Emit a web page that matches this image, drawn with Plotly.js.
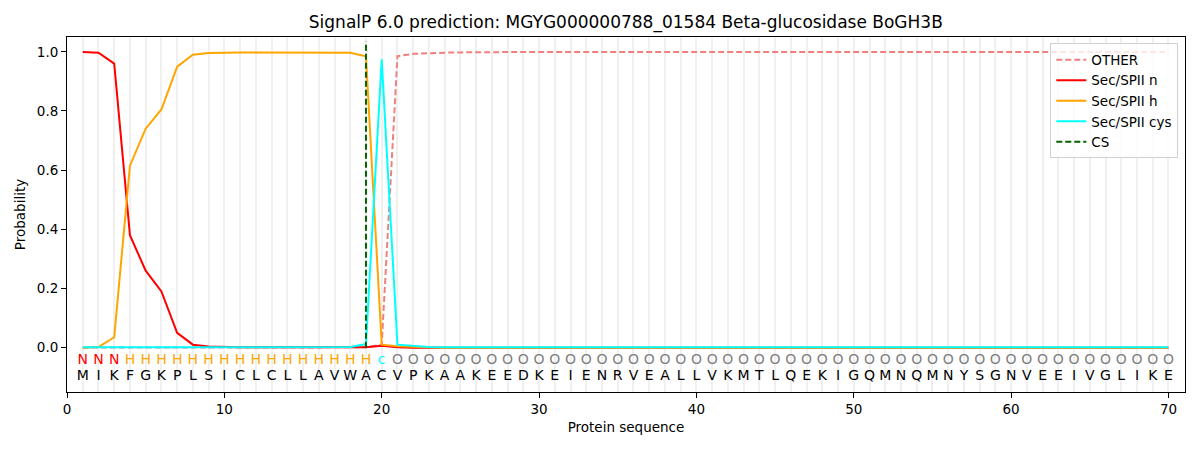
<!DOCTYPE html>
<html>
<head>
<meta charset="utf-8">
<script src="https://cdn.plot.ly/plotly-3.0.1.min.js"></script>
<style>
  body { margin: 0; background: #fff; }
  #chart { width: 1200px; height: 450px; }
</style>
</head>
<body>
<div id="chart"></div>
<script>
// sequence and per-residue labels
const sequence = "MIKFGKPLSICLCLLAVWACVPKAAKEEDKEIENRVEALLVKMTLQEKIGQMNQMNYSGNVEEIVGLIKE".split("");
const labels = "NNNHHHHHHHHHHHHHHHHcOOOOOOOOOOOOOOOOOOOOOOOOOOOOOOOOOOOOOOOOOOOOOOOOOO".split("");
const positions = sequence.map((_, i) => i + 1);

// probabilities
const otherProb = [0, 0, 0, 0, 0, 0, 0, 0, 0, 0, 0, 0, 0, 0, 0, 0, 0, 0, 0.001, 0.01,
  0.985, 0.993, 0.996, 0.997, 0.998, 0.999, 0.999, 0.999, 0.999, 0.999,
  0.999, 0.999, 0.999, 0.999, 0.999, 0.999, 0.999, 0.999, 0.999, 0.999,
  0.999, 0.999, 0.999, 0.999, 0.999, 0.999, 0.999, 0.999, 0.999, 0.999,
  0.999, 0.999, 0.999, 0.999, 0.999, 0.999, 0.999, 0.999, 0.999, 0.999,
  0.999, 0.999, 0.999, 0.999, 0.999, 0.999, 0.999, 0.999, 0.999, 0.999];
const nProb = [0.999, 0.997, 0.96, 0.38, 0.26, 0.19, 0.05, 0.01, 0.004, 0.002,
  0.001, 0.001, 0.001, 0.001, 0.001, 0.001, 0.001, 0.001, 0.001, 0.006,
  0.001, 0, 0, 0, 0, 0, 0, 0, 0, 0,
  0, 0, 0, 0, 0, 0, 0, 0, 0, 0,
  0, 0, 0, 0, 0, 0, 0, 0, 0, 0,
  0, 0, 0, 0, 0, 0, 0, 0, 0, 0,
  0, 0, 0, 0, 0, 0, 0, 0, 0, 0];
const hProb = [0, 0.002, 0.035, 0.615, 0.74, 0.805, 0.95, 0.99, 0.996, 0.998,
  0.998, 0.998, 0.998, 0.998, 0.998, 0.998, 0.998, 0.997, 0.985, 0.01,
  0.005, 0.002, 0.001, 0, 0, 0, 0, 0, 0, 0,
  0, 0, 0, 0, 0, 0, 0, 0, 0, 0,
  0, 0, 0, 0, 0, 0, 0, 0, 0, 0,
  0, 0, 0, 0, 0, 0, 0, 0, 0, 0,
  0, 0, 0, 0, 0, 0, 0, 0, 0, 0];
const cysProb = [0.001, 0.001, 0.001, 0.001, 0.001, 0.001, 0.001, 0.001, 0.001, 0.001,
  0.001, 0.001, 0.001, 0.001, 0.001, 0.001, 0.001, 0.002, 0.012, 0.975,
  0.01, 0.005, 0.002, 0.001, 0.001, 0.001, 0.001, 0.001, 0.001, 0.001,
  0.001, 0.001, 0.001, 0.001, 0.001, 0.001, 0.001, 0.001, 0.001, 0.001,
  0.001, 0.001, 0.001, 0.001, 0.001, 0.001, 0.001, 0.001, 0.001, 0.001,
  0.001, 0.001, 0.001, 0.001, 0.001, 0.001, 0.001, 0.001, 0.001, 0.001,
  0.001, 0.001, 0.001, 0.001, 0.001, 0.001, 0.001, 0.001, 0.001, 0.001];
const csX = [19, 19];
const csY = [0, 1.035];

const labelColors = { N: "red", H: "orange", c: "cyan", O: "gray" };

const font = "DejaVu Sans, sans-serif";

var traces = [
  {
    x: positions, y: otherProb, name: "OTHER", mode: "lines",
    line: { color: "lightcoral", width: 2, dash: "6px,3px" },
  },
  {
    x: positions, y: nProb, name: "Sec/SPII n", mode: "lines",
    line: { color: "red", width: 2 },
  },
  {
    x: positions, y: hProb, name: "Sec/SPII h", mode: "lines",
    line: { color: "orange", width: 2 },
  },
  {
    x: positions, y: cysProb, name: "Sec/SPII cys", mode: "lines",
    line: { color: "cyan", width: 2 },
  },
  {
    x: csX, y: csY, name: "CS", mode: "lines",
    line: { color: "darkgreen", width: 2, dash: "6px,3px" },
  },
  // region letters
  {
    x: positions, y: positions.map(() => -0.045), mode: "text",
    text: labels, showlegend: false, hoverinfo: "skip",
    textfont: { family: font, size: 14, color: labels.map((l) => labelColors[l]) },
  },
  // amino acids
  {
    x: positions, y: positions.map(() => -0.098), mode: "text",
    text: sequence, showlegend: false, hoverinfo: "skip",
    textfont: { family: font, size: 14, color: "black" },
  },
];

var layout = {
  width: 1200,
  height: 450,
  margin: { l: 67, r: 15, t: 37, b: 58 },
  paper_bgcolor: "white",
  plot_bgcolor: "white",
  font: { family: font, size: 13, color: "black" },
  title: {
    text: "SignalP 6.0 prediction: MGYG000000788_01584 Beta-glucosidase BoGH3B",
    font: { family: font, size: 17, color: "black" },
    x: 0.5215, xanchor: "center", y: 0.95, yanchor: "middle",
  },
  xaxis: {
    range: [0, 71.05],
    tickmode: "array",
    tickvals: [0, 10, 20, 30, 40, 50, 60, 70],
    ticks: "outside", ticklen: 5, tickcolor: "black",
    tickfont: { family: font, size: 13.5 },
    showline: true, linecolor: "black", linewidth: 1, mirror: true,
    showgrid: false, zeroline: false,
    minor: { tick0: 0, dtick: 1, showgrid: true, gridcolor: "#f0f0f0", gridwidth: 2, ticks: "" },
    title: { text: "Protein sequence", font: { family: font, size: 13.5 }, standoff: 6 },
  },
  yaxis: {
    range: [-0.15, 1.05],
    tickmode: "array",
    tickvals: [0, 0.2, 0.4, 0.6, 0.8, 1.0],
    ticktext: ["0.0", "0.2", "0.4", "0.6", "0.8", "1.0"],
    ticks: "outside", ticklen: 5, tickcolor: "black",
    tickfont: { family: font, size: 13.5 },
    showline: true, linecolor: "black", linewidth: 1, mirror: true,
    showgrid: false, zeroline: false,
    title: { text: "Probability", font: { family: font, size: 13.5 }, standoff: 8 },
  },
  legend: {
    x: 0.994, xanchor: "right", y: 0.982, yanchor: "top",
    bgcolor: "rgba(255,255,255,0.8)", bordercolor: "#d0d0d0", borderwidth: 1,
    font: { family: font, size: 13.5 },
    tracegroupgap: 0,
  },
  showlegend: true,
};

Plotly.newPlot("chart", traces, layout, { staticPlot: true });
</script>
</body>
</html>
